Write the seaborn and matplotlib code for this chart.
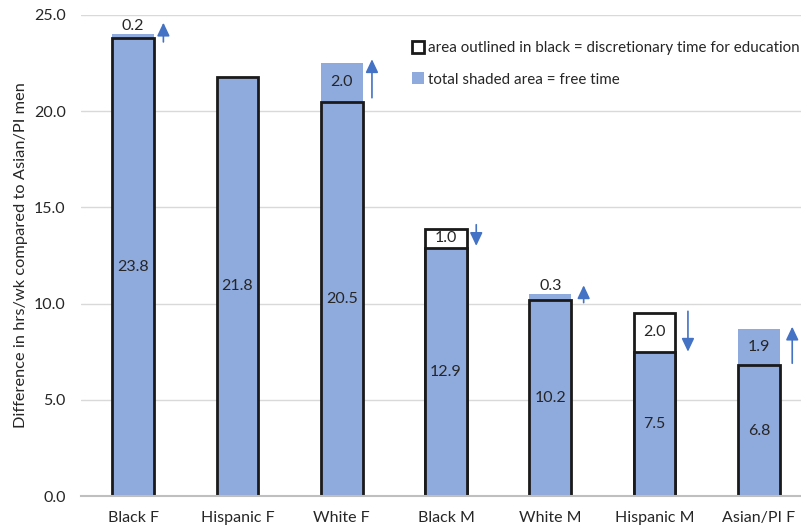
import matplotlib
matplotlib.use("Agg")
import matplotlib.pyplot as plt
from matplotlib.patches import Patch
import seaborn as sns
import pandas as pd

# ---- data ----
categories = ["Black F", "Hispanic F", "White F", "Black M", "White M", "Hispanic M", "Asian/PI F"]
base_values = [23.8, 21.8, 20.5, 12.9, 10.2, 7.5, 6.8]
extra_values = [0.2, 0.0, 2.0, 1.0, 0.3, 2.0, 1.9]
extra_kind = ["shaded", "none", "shaded", "outlined", "shaded", "outlined", "shaded"]
arrow_tail = [23.6, None, 20.7, 14.1, 10.05, 9.6, 6.9]
arrow_tip = [24.6, None, 22.7, 13.0, 10.95, 7.5, 8.8]
yticks = [0, 5, 10, 15, 20, 25]

BLUE = "#8FAADC"
ARROW = "#4472C4"
TXT = "#262626"

sns.set_theme(style="white")
plt.rcParams["font.family"] = ["Lato", "DejaVu Sans"]

df = pd.DataFrame({
    "cat": categories,
    "base": base_values,
    "extra": extra_values,
    "kind": extra_kind,
})
df["total"] = df["base"] + df["extra"]

fig = plt.figure(figsize=(8.01, 5.29), dpi=100)
ax = fig.add_axes([81 / 801, 1 - 496 / 529, (811 - 81) / 801, (496 - 15) / 529])

W = 0.40
shaded = df[df["kind"] == "shaded"]
outlined = df[df["kind"] == "outlined"]

sns.barplot(data=shaded, x="cat", y="total", order=categories, color=BLUE,
            saturation=1, width=W, linewidth=0, ax=ax, errorbar=None)
sns.barplot(data=outlined, x="cat", y="total", order=categories, color="white",
            saturation=1, width=W, linewidth=2, edgecolor="#1a1a1a", ax=ax, errorbar=None)
sns.barplot(data=df, x="cat", y="base", order=categories, color=BLUE,
            saturation=1, width=W, linewidth=2, edgecolor="#1a1a1a", ax=ax, errorbar=None)

# value labels
for i, row in df.iterrows():
    ax.text(i, row["base"] / 2, f"{row['base']:.1f}", ha="center", va="center",
            fontsize=11.5, color=TXT)
    if row["kind"] != "none":
        if row["extra"] < 0.5:
            ax.text(i, row["total"] + 0.05, f"{row['extra']:.1f}", ha="center", va="bottom",
                    fontsize=11.5, color=TXT)
        else:
            ax.text(i, row["base"] + row["extra"] / 2, f"{row['extra']:.1f}", ha="center",
                    va="center", fontsize=11.5, color=TXT)

# arrows
for i, (t0, t1) in enumerate(zip(arrow_tail, arrow_tip)):
    if t0 is None:
        continue
    off = 0.29 if i < 4 else 0.32
    ax.annotate("", xy=(i + off, t1), xytext=(i + off, t0),
                arrowprops=dict(arrowstyle="-|>,head_length=0.8,head_width=0.38",
                                color=ARROW, lw=1.2, shrinkA=0, shrinkB=0,
                                mutation_scale=10))

ax.set_ylim(0, 25)
ax.set_xlim(-0.5, len(categories) - 0.5)
ax.set_yticks(yticks)
ax.set_yticklabels([f"{v:.1f}" for v in yticks])
ax.yaxis.grid(True, color="#D9D9D9", lw=1)
ax.set_axisbelow(True)
for s in ["top", "right", "left"]:
    ax.spines[s].set_visible(False)
ax.spines["bottom"].set_color("#BFBFBF")
ax.spines["bottom"].set_linewidth(1.5)
ax.spines["bottom"].set_zorder(5)
ax.tick_params(axis="both", length=0, labelsize=11.5, colors=TXT)
ax.tick_params(axis="y", pad=11)
ax.tick_params(axis="x", pad=11)
ax.set_xlabel("")
ax.set_ylabel("Difference in hrs/wk compared to Asian/PI men", fontsize=11.8,
              color=TXT, labelpad=4)

handles = [Patch(facecolor="white", edgecolor="#1a1a1a", linewidth=2),
           Patch(facecolor=BLUE, edgecolor="none")]
labels = ["area outlined in black = discretionary time for education",
          "total shaded area = free time"]
fig.legend(handles, labels, loc="upper left", bbox_to_anchor=(412 / 801, 1 - 41 / 529),
           frameon=False, fontsize=10.9, handlelength=0.8, handleheight=0.8,
           handletextpad=0.25, labelspacing=1.15, borderaxespad=0, borderpad=0,
           labelcolor=TXT)

fig.savefig("out.png", dpi=100)
